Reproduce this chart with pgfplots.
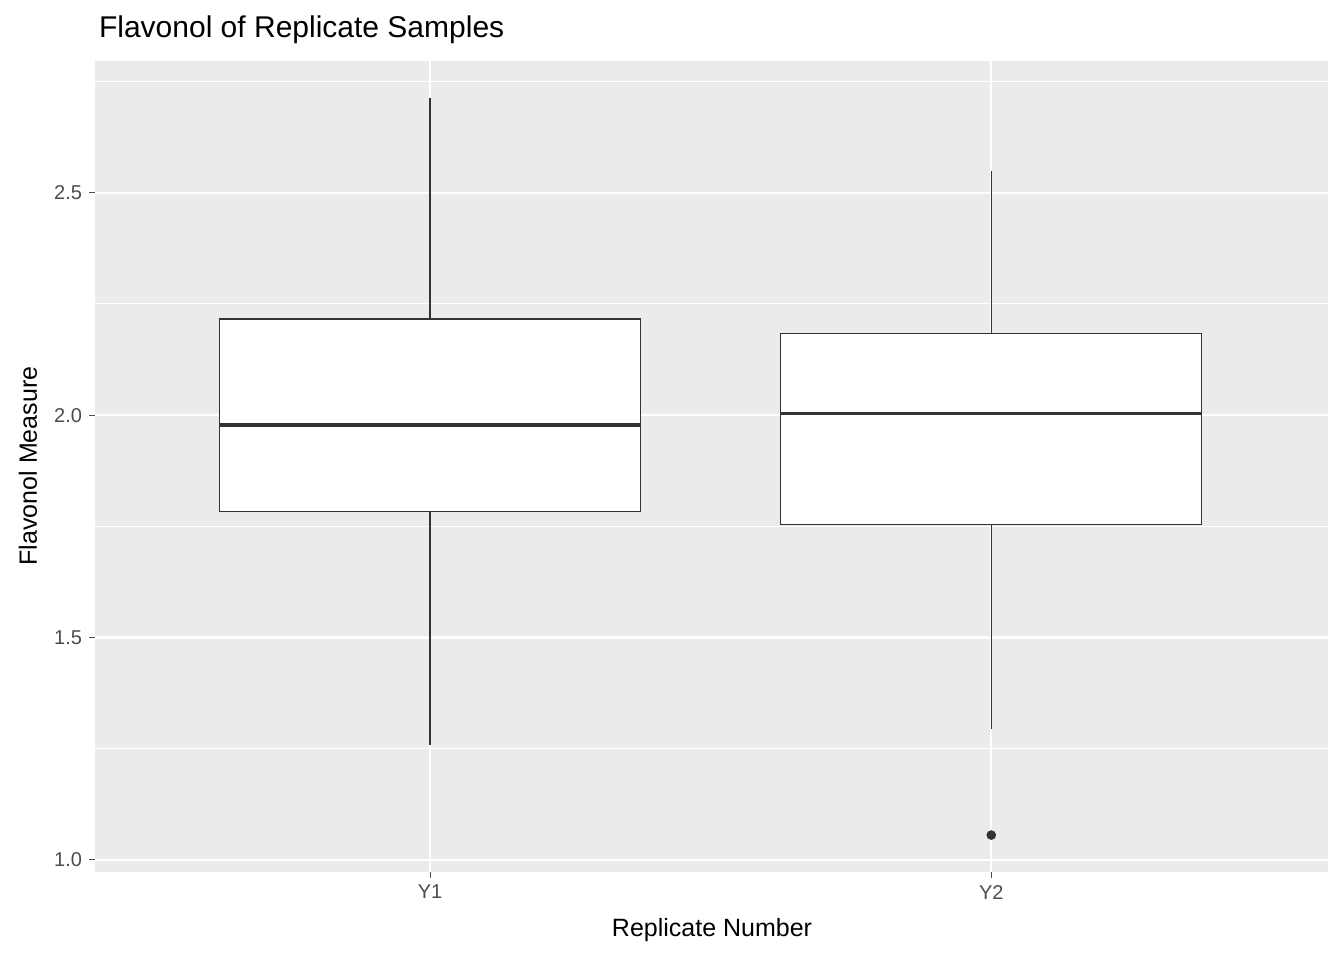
\documentclass[border=0pt]{standalone}
\usepackage{pgfplots}
\pgfplotsset{compat=1.18}
\usepgfplotslibrary{statistics}
\usepackage{fontspec}
\setmainfont{Liberation Sans}
\definecolor{panel}{HTML}{EBEBEB}
\definecolor{boxc}{HTML}{333333}
\begin{document}
\begin{tikzpicture}
\path (0pt,0pt) rectangle (672pt,480pt);
\begin{axis}[at={(47.5pt,44pt)}, anchor=south west, scale only axis,
  width=616.5pt, height=405.5pt,
  xmin=0.403, xmax=2.6, ymin=0.973, ymax=2.796,
  axis background/.style={fill=panel}, axis line style={draw=none},
  xtick={1,2}, xticklabels={Y1,Y2},
  ytick={1,1.5,2,2.5}, yticklabels={1.0,1.5,2.0,2.5},
  minor ytick={1.25,1.75,2.25,2.75},
  xtick pos=bottom, ytick pos=left,
  grid=both, major grid style={white, line width=1.1pt}, minor grid style={white, line width=0.55pt},
  tick align=outside, major tick length=3pt, minor tick length=0pt,
  tick style={gray!60!black, line width=0.5pt},
  ticklabel style={font=\fontsize{10}{12}\selectfont, text=black!70},
  /pgf/number format/assume math mode=true,
  boxplot/draw direction=y,
  clip=false]
\addplot[boxc, line width=0.6pt, fill=white, boxplot prepared={draw position=1, box extend=0.75, whisker extend=0,
  lower whisker=1.258, lower quartile=1.784, median=1.978, upper quartile=2.216, upper whisker=2.712,
  every median/.style={line width=1.6pt}}] coordinates {};
\addplot[boxc, line width=0.6pt, fill=white, boxplot prepared={draw position=2, box extend=0.75, whisker extend=0,
  lower whisker=1.294, lower quartile=1.755, median=2.004, upper quartile=2.184, upper whisker=2.548,
  every median/.style={line width=1.6pt}}] coordinates {};
\addplot[only marks, mark=*, mark size=2.2pt, boxc] coordinates {(2,1.056)};
\end{axis}
\node[anchor=west, font=\fontsize{15}{18}\selectfont] at (46pt,465pt) {Flavonol of Replicate Samples};
\node[font=\fontsize{12.5}{15}\selectfont] at (356pt,15pt) {Replicate Number};
\node[rotate=90, font=\fontsize{12.5}{15}\selectfont] at (14pt,247pt) {Flavonol Measure};
\end{tikzpicture}
\end{document}
